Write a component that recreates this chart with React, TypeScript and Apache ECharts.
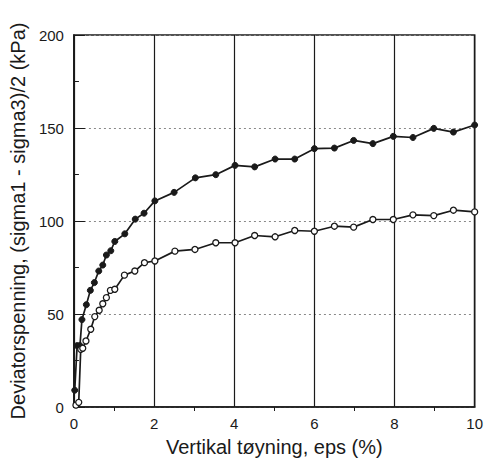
import React, { useEffect, useRef } from "react";
import * as echarts from "echarts";

const upperX = [0.02, 0.08, 0.15, 0.2, 0.31, 0.41, 0.51, 0.62, 0.72, 0.81, 0.92, 1.02, 1.27, 1.53, 1.75, 2.02, 2.5, 3.03, 3.54, 4.02, 4.51, 5.02, 5.51, 6.0, 6.5, 6.98, 7.46, 7.97, 8.46, 8.98, 9.47, 10.0];
const upperY = [9, 33, 33, 47, 55, 62.7, 66.9, 73.1, 76.3, 81.7, 84, 89, 93.1, 101, 104.2, 110.8, 115.4, 123.2, 124.9, 129.9, 129.1, 133.3, 133.3, 138.9, 139.2, 143.3, 141.6, 145.5, 144.9, 149.8, 147.8, 151.6];

const lowerX = [0.05, 0.12, 0.17, 0.22, 0.3, 0.42, 0.52, 0.63, 0.72, 0.81, 0.91, 1.02, 1.26, 1.52, 1.76, 2.02, 2.52, 3.02, 3.54, 4.02, 4.51, 5.02, 5.51, 6.0, 6.5, 6.98, 7.46, 7.97, 8.46, 8.98, 9.47, 10.0];
const lowerY = [1, 2.5, 31, 31.6, 35.5, 41.8, 48.6, 52, 55.5, 58.8, 62.7, 63.3, 70.9, 73.1, 77.6, 78.5, 83.8, 84.7, 88.3, 88.3, 92.2, 91.5, 94.9, 94.5, 97.2, 96.7, 100.8, 100.8, 103.3, 102.9, 105.8, 104.9];

const xTicks = [0, 2, 4, 6, 8, 10];
const yTicks = [0, 50, 100, 150, 200];

const yName = "Deviatorspenning, (sigma1 - sigma3)/2 (kPa)";
const xName = "Vertikal tøyning, eps (%)";

export default function App() {
  const ref = useRef<HTMLDivElement>(null);
  useEffect(() => {
    if (!ref.current) return;
    const chart = echarts.init(ref.current, null, { renderer: "svg" });
    const font = "Liberation Sans, Arial, sans-serif";
    const ink = "#1a1a1a";
    chart.setOption({
      animation: false,
      backgroundColor: "#fff",
      grid: {
        left: 70,
        right: 6,
        top: 35,
        bottom: 54,
        show: true,
        borderColor: ink,
        borderWidth: 1.6,
        backgroundColor: "transparent",
      },
      xAxis: {
        type: "value",
        min: xTicks[0],
        max: xTicks[xTicks.length - 1],
        interval: 2,
        name: xName,
        nameLocation: "middle",
        nameGap: 30,
        nameTextStyle: { fontFamily: font, fontSize: 20, color: ink },
        axisLine: { show: true, lineStyle: { color: ink, width: 1.6 } },
        axisTick: { show: false },
        minorTick: { show: true, splitNumber: 2, length: 4, lineStyle: { color: ink } },
        axisLabel: { fontFamily: font, fontSize: 15, color: ink, margin: 9 },
        splitLine: { show: true, lineStyle: { color: ink, width: 1.2 } },
      },
      yAxis: {
        type: "value",
        min: yTicks[0],
        max: yTicks[yTicks.length - 1],
        interval: 50,
        name: yName,
        nameLocation: "middle",
        nameGap: 45,
        nameTextStyle: { fontFamily: font, fontSize: 20, color: ink },
        axisLine: { show: true, lineStyle: { color: ink, width: 1.6 } },
        axisTick: { show: true, inside: true, length: 11, lineStyle: { color: ink } },
        minorTick: { show: true, splitNumber: 2, length: 5, lineStyle: { color: ink } },
        axisLabel: { fontFamily: font, fontSize: 15, color: ink, margin: 10 },
        splitLine: { show: true, lineStyle: { color: "#888", width: 1, type: [2, 3] } },
      },
      series: [
        {
          type: "line",
          data: upperX.map((x, i) => [x, upperY[i]]),
          symbol: "circle",
          symbolSize: 6,
          lineStyle: { color: ink, width: 1.7 },
          itemStyle: { color: ink, borderColor: ink },
        },
        {
          type: "line",
          data: lowerX.map((x, i) => [x, lowerY[i]]),
          symbol: "circle",
          symbolSize: 6,
          lineStyle: { color: ink, width: 1.7 },
          itemStyle: { color: "#fff", borderColor: ink, borderWidth: 1.3 },
        },
      ],
    });
    return () => chart.dispose();
  }, []);
  return <div ref={ref} style={{ width: 486, height: 462, position: "absolute", left: 0, top: 0 }} />;
}
